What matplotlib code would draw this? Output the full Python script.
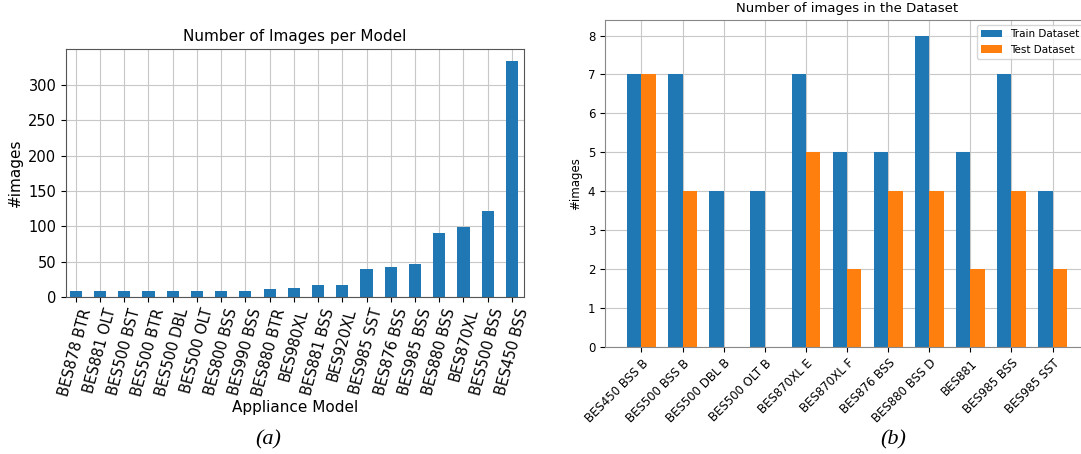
import matplotlib
matplotlib.use("Agg")
import matplotlib.pyplot as plt
import numpy as np

### données (a) : nombre d'images par modèle
models_a = ["BES878 BTR", "BES881 OLT", "BES500 BST", "BES500 BTR", "BES500 DBL",
            "BES500 OLT", "BES800 BSS", "BES990 BSS", "BES880 BTR", "BES980XL",
            "BES881 BSS", "BES920XL", "BES985 SST", "BES876 BSS", "BES985 BSS",
            "BES880 BSS", "BES870XL", "BES500 BSS", "BES450 BSS"]
counts_a = [8, 8, 8, 8, 8, 8, 8, 8, 12, 13, 17, 17, 40, 42, 46, 91, 99, 121, 334]

### données (b) : train / test
models_b = ["BES450 BSS B", "BES500 BSS B", "BES500 DBL B", "BES500 OLT B",
            "BES870XL E", "BES870XL F", "BES876 BSS", "BES880 BSS D",
            "BES881", "BES985 BSS", "BES985 SST"]
train_b = [7, 7, 4, 4, 7, 5, 5, 8, 5, 7, 4]
test_b = [7, 4, 0, 0, 5, 2, 4, 4, 2, 4, 2]

fig = plt.figure(figsize=(10.81, 4.54), dpi=100)

### graphique (a)
ax1 = fig.add_axes([0.0611, 0.3458, 0.4237, 0.5463])
x1 = np.arange(len(models_a))
ax1.bar(x1, counts_a, width=0.5, color="#1f77b4", zorder=2)
ax1.set_xlim(-0.4, len(models_a) - 0.5)
ax1.set_xticks(x1)
ax1.set_xticklabels(models_a, rotation=75, fontsize=10.5)
ax1.tick_params(axis="y", labelsize=10.5)
ax1.set_yticks([0, 50, 100, 150, 200, 250, 300])
ax1.grid(True, color="#c8c8c8", zorder=0)
ax1.set_axisbelow(True)
ax1.set_title("Number of Images per Model", fontsize=11)
ax1.set_ylabel("#images", fontsize=11)
ax1.set_xlabel("Appliance Model", fontsize=11, labelpad=2)
for s in ax1.spines.values():
    s.set_color("#555555")

### graphique (b)
ax2 = fig.add_axes([0.5597, 0.2357, 0.4477, 0.7203])
x2 = np.arange(len(models_b))
w = 0.35
ax2.bar(x2 - w / 2, train_b, width=w, color="#1f77b4", label="Train Dataset", zorder=2)
ax2.bar(x2 + w / 2, test_b, width=w, color="#ff7f0e", label="Test Dataset", zorder=2)
ax2.set_xticks(x2)
ax2.set_xticklabels(models_b, rotation=45, ha="right", rotation_mode="anchor", fontsize=8.5)
ax2.tick_params(axis="y", labelsize=8.5)
ax2.grid(True, color="#c8c8c8", zorder=0)
ax2.set_axisbelow(True)
ax2.set_title("Number of images in the Dataset", fontsize=9.5)
ax2.set_ylabel("#images", fontsize=8.5)
ax2.legend(loc="upper right", fontsize=7.5)
for s in ax2.spines.values():
    s.set_color("#888888")

### légendes (a) / (b)
fig.text(0.248, 0.022, "(a)", family="Liberation Serif", style="italic", fontsize=16, ha="center")
fig.text(0.826, 0.022, "(b)", family="Liberation Serif", style="italic", fontsize=16, ha="center")

fig.savefig("out.png", dpi=100)
